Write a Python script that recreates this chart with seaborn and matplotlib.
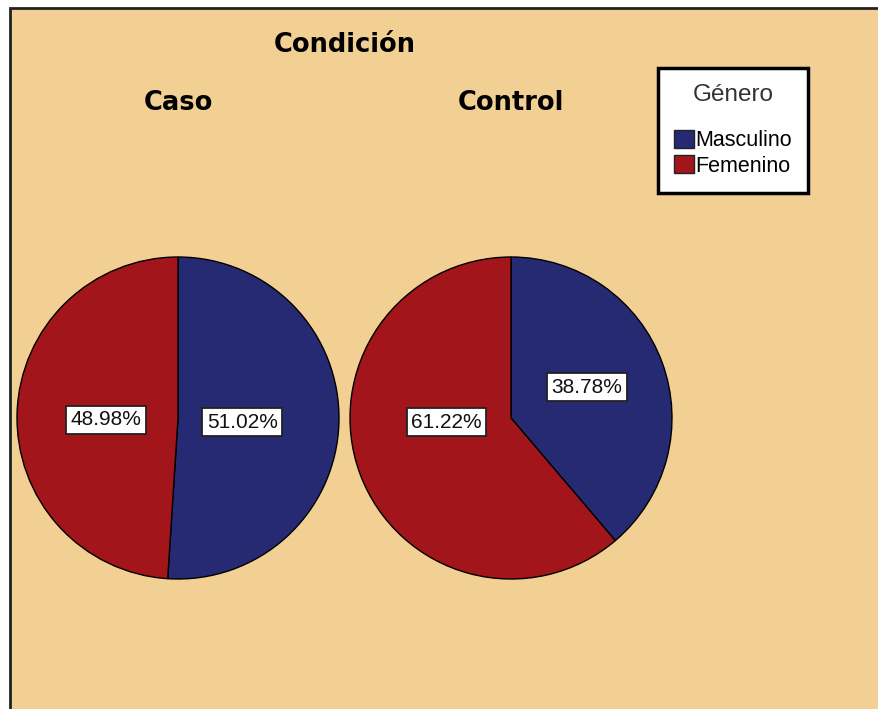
import matplotlib
matplotlib.use("Agg")
import matplotlib.pyplot as plt
import matplotlib.patches as mpatches
import seaborn as sns

sns.set_style("white")
plt.rcParams['font.family'] = ['Liberation Sans', 'DejaVu Sans']
plt.rcParams['text.color'] = 'black'

# Datos
condiciones = ['Caso', 'Control']
generos = ['Masculino', 'Femenino']
porcentajes = {
    'Caso': [51.02, 48.98],
    'Control': [38.78, 61.22],
}
colores = ['#262A72', '#A2161B']
fondo = '#F2CF93'

# Posición de las etiquetas dentro de cada pastel (en radios), como en SPSS
pos_etiquetas = {
    'Caso': [(0.40, -0.025), (-0.45, -0.01)],
    'Control': [(0.47, 0.19), (-0.40, -0.025)],
}

W, H = 879, 709
fig = plt.figure(figsize=(W / 100, H / 100), dpi=100)
fig.patch.set_facecolor('white')

# Marco de fondo (recortado a la derecha y abajo como en el original)
marco = mpatches.Rectangle((10 / W, -0.01), 1.0, 1 - 8 / H + 0.01,
                           transform=fig.transFigure, facecolor=fondo,
                           edgecolor='#222222', linewidth=2, zorder=-5)
fig.patches.append(marco)

centros_x = [178, 511]
centro_y = 418
radio = 161

for cond, cx in zip(condiciones, centros_x):
    ax = fig.add_axes([(cx - radio) / W, (H - centro_y - radio) / H,
                       2 * radio / W, 2 * radio / H])
    ax.set_facecolor('none')
    wedges, texts, autotexts = ax.pie(
        porcentajes[cond], colors=colores, startangle=90, counterclock=False,
        autopct='%.2f%%', pctdistance=0.45,
        wedgeprops=dict(edgecolor='black', linewidth=1),
        textprops=dict(fontsize=15, color='#111111'))
    for t, pos in zip(autotexts, pos_etiquetas[cond]):
        t.set_position(pos)
        t.set_bbox(dict(boxstyle='square,pad=0.22', facecolor='white',
                        edgecolor='#222222', linewidth=1.3))
    ax.set_xlim(-1, 1)
    ax.set_ylim(-1, 1)
    ax.axis('off')
    fig.text(cx / W, 1 - 103 / H, cond, ha='center', va='center',
             fontsize=18.5, fontweight='bold', family='DejaVu Sans')

fig.text(345 / W, 1 - 45 / H, 'Condición', ha='center', va='center',
         fontsize=18.5, fontweight='bold', family='DejaVu Sans')

handles = [mpatches.Patch(facecolor=c, edgecolor='#222222', linewidth=1)
           for c in colores]
leg = fig.legend(handles, generos, title='Género', loc='upper left',
                 bbox_to_anchor=(658 / W, 1 - 68 / H), fontsize=15.5,
                 title_fontsize=17.5, frameon=True, fancybox=False,
                 facecolor='white', framealpha=1,
                 edgecolor='black', handlelength=0.9, handleheight=0.9,
                 handletextpad=0.1, labelspacing=0.2, borderpad=0.75,
                 borderaxespad=0)
leg.get_frame().set_linewidth(2.5)
leg.get_title().set_color('#333333')
leg._legend_box.sep = 17

fig.savefig('out.png', dpi=100, facecolor='white')
